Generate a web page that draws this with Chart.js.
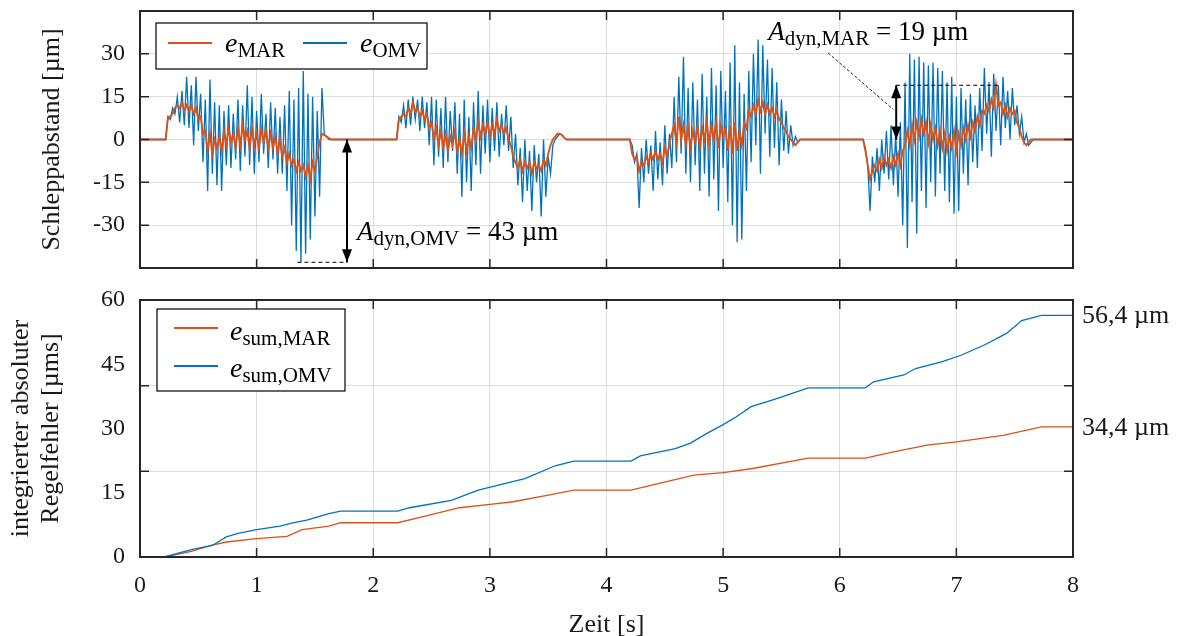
<!DOCTYPE html>
<html>
<head>
<meta charset="utf-8">
<script src="https://cdn.jsdelivr.net/npm/chart.js@4.4.1/dist/chart.umd.min.js"></script>
<style>
  html, body { margin: 0; padding: 0; background: #fff; }
  #wrap { position: relative; width: 1178px; height: 636px; }
  canvas { position: absolute; left: 0; }
  #oben { top: 0; }
  #unten { top: 280px; }
</style>
</head>
<body>
<div id="wrap">
  <canvas id="oben" width="1178" height="280"></canvas>
  <canvas id="unten" width="1178" height="356"></canvas>
</div>
<script>
const abschnittStart = [0.22, 2.2, 4.2, 6.2]
const dt = 0.02

const omv1 = [0, 8, 7, 11, 9, 15, 6, 17, 5, 22, 4, 19, -2, 22, 3, 16, -8, 14, -18, 21,
  -12, 13, -16, 12, -18, 10, -9, 12, -10, 9, -7, 14, -11, 12, -6, 19, -9, 15, -12, 10,
  -8, 16, -5, 9, -10, 13, -7, 11, -12, 8, -12, 12, -18, 17, -30, 14, -39, 18, -43, 24,
  -40, 16, -35, 15, -27, 10, -20, 18, 2, 1, 0, 0]
const mar1 = [0, 8, 8, 9, 11, 12, 11, 13, 10, 12, 10, 12, 9, 11, 7, 8, 2, 3, -4, 2,
  -5, 0, -3, 1, -4, 3, -2, 4, -1, 2, -3, 4, -2, 5, 0, 3, -3, 4, -2, 2,
  -3, 4, -1, 3, -3, 2, -3, 1, -5, 0, -6, -3, -8, -5, -9, -7, -11, -8, -11, -9,
  -13, -9, -14, -8, -11, -6, -1, 2, 1.5, 1, 0.5, 0]

const omv2 = [0, 8, 6, 12, 4, 14, 5, 15, 7, 14, 3, 15, 4, 13, -2, 15, -9, 14, -6, 11,
  -10, 15, -8, 10, -4, 13, -12, 9, -20, 14, -15, 8, -18, 13, -9, 17, -12, 12, -5, 14,
  -8, 11, -4, 13, -6, 9, -2, 12, -4, 8, -10, 2, -16, -3, -22, 0, -18, -4, -25, -2,
  -15, -5, -27, 0, -20, -6, -12, -2, 0, 1, 2, 1.5, 0.5, 0, 0, 0]
const mar2 = [0, 7, 8, 9, 8, 11, 9, 13, 10, 11, 8, 10, 7, 9, 4, 6, 0, 4, -2, 3,
  -3, 2, -4, 1, -2, 3, -4, 0, -5, 2, -4, 1, -3, 4, 0, 6, 1, 5, 2, 6,
  1, 5, 2, 7, 3, 5, 2, 4, 0, -2, -6, -8, -10, -7, -11, -8, -10, -8, -12, -8,
  -10, -9, -11, -7, -9, -5, -2, 0, 1, 2, 2, 1.5, 0.5, 0, 0, 0]

const omv3 = [0, -2, -8, -5, -24, -3, -15, 0, -12, -2, -18, 3, -14, -1, -16, 5, -12, 2, -10, 15,
  -8, 22, -5, 29, -12, 18, -15, 20, -9, 14, -18, 23, -12, 15, -20, 25, -14, 19, -25, 24,
  -10, 17, -22, 27, -30, 33, -36, 20, -35, 16, -18, 24, -8, 30, -2, 35, -12, 33, 2, 28,
  -6, 25, -3, 20, -9, 14, -4, 10, -5, 5, -2, 1, -1, 0, 0, 0]
const mar3 = [0, -5, -7, -6, -11, -8, -9, -6, -8, -5, -7, -4, -7, -5, -8, -3, -6, -1, 2, 5,
  -1, 8, 0, 5, -2, 4, -3, 3, -1, 5, -3, 4, 0, 6, -2, 5, 0, 6, -3, 5,
  1, 4, -4, 5, -5, 6, -4, 3, -2, 6, 4, 10, 8, 12, 9, 14, 10, 13, 9, 12,
  9, 11, 8, 10, 7, 6, 4, 3, 1, 0, -1, -2, -1, 0, 0, 0]

const omv4 = [0, -3, -9, -25, -6, -15, -3, -18, 0, -12, 3, -14, 5, -16, 2, -20, 6, -30, 20, -38,
  30, -22, 28, -33, 29, -18, 27, -24, 26, -15, 27, -20, 25, -12, 24, -18, 20, -22, 22, -26,
  15, -25, 18, -12, 14, -16, 16, -8, 12, -10, 18, -4, 25, 2, 20, -6, 23, 3, 19, -2,
  22, 4, 17, 0, 18, 5, 12, 2, 8, -1, 2, -2, -1, 0, 0, 0]
const mar4 = [0, -4, -9, -14, -11, -9, -11, -7, -10, -6, -9, -7, -10, -6, -9, -5, -9, -4, -2, 3,
  -2, 5, 0, 6, 1, 7, 2, 6, -1, 5, 0, 4, -2, 3, -3, 2, -4, 1, -3, 3,
  -4, 2, -2, 4, 0, 5, 1, 6, 3, 8, 5, 10, 9, 12, 10, 14, 11, 19, 12, 13,
  9, 12, 8, 11, 9, 10, 6, 4, 1, -1, -2, -1, 0, 0, 0, 0]

// integrierter absoluter Regelfehler
const tSumMar = [0, 0.21, 0.44, 0.61, 0.74, 1.0, 1.26, 1.39, 1.62, 1.72, 2.21, 2.41, 2.74, 3.0, 3.2,
  3.49, 3.72, 4.21, 4.56, 4.75, 5.0, 5.24, 5.73, 6.22, 6.45, 6.75, 7.0, 7.4, 7.73, 8.0]
const eSumMar = [0, 0, 1.3, 2.7, 3.5, 4.3, 4.8, 6.4, 7.2, 8.0, 8.0, 9.3, 11.5, 12.3, 12.9,
  14.4, 15.6, 15.6, 17.9, 19.1, 19.7, 20.6, 23.1, 23.1, 24.5, 26.1, 26.9, 28.4, 30.4, 30.4]
const tSumOmv = [0, 0.21, 0.44, 0.62, 0.74, 0.84, 1.0, 1.2, 1.3, 1.43, 1.62, 1.72, 2.21, 2.31, 2.67,
  2.9, 3.03, 3.3, 3.56, 3.72, 4.21, 4.29, 4.59, 4.72, 4.85, 5.0, 5.11, 5.24, 5.44, 5.73,
  6.22, 6.29, 6.55, 6.65, 6.88, 7.04, 7.24, 7.43, 7.56, 7.73, 8.0]
const eSumOmv = [0, 0, 1.7, 2.7, 4.7, 5.5, 6.4, 7.2, 7.9, 8.6, 10.1, 10.7, 10.7, 11.5, 13.2,
  15.6, 16.5, 18.3, 21.3, 22.4, 22.4, 23.6, 25.3, 26.6, 28.7, 30.9, 32.7, 35.1, 36.8, 39.5,
  39.5, 40.9, 42.5, 44.0, 45.6, 47.1, 49.5, 52.2, 55.2, 56.4, 56.4]

// Achsen
const xTicks = [0, 1, 2, 3, 4, 5, 6, 7, 8]
const yTicksOben = [-45, -30, -15, 0, 15, 30, 45]
const yLabelsOben = [-30, -15, 0, 15, 30]
const yGitterUnten = [0, 20, 40, 60]
const yLabelsUnten = [0, 15, 30, 45, 60]
const endLabels = ['56,4 µm', '34,4 µm']

const BLAU = '#0072BD'
const ORANGE = '#D95319'
const GITTER = 'rgba(0,0,0,0.13)'
const SERIF = '"Liberation Serif", "Times New Roman", serif'

Chart.defaults.font.family = SERIF
Chart.defaults.color = '#1a1a1a'

function zuPunkten(abschnitte) {
    const pts = [{x: 0, y: 0}]
    abschnitte.forEach((werte, k) => {
        werte.forEach((v, i) => pts.push({x: +(abschnittStart[k] + i * dt).toFixed(3), y: v}))
    })
    pts.push({x: 8, y: 0})
    return pts
}

function zuXY(t, w) {
    return t.map((x, i) => ({x: x, y: w[i]}))
}

// keine Randabstände für halbe Beschriftungen
function festeBreite(breite) {
    return s => {
        s.width = breite
        s.paddingTop = 0
        s.paddingBottom = 0
    }
}
function festeHoehe(hoehe) {
    return s => {
        s.height = hoehe
        s.paddingLeft = 0
        s.paddingRight = 0
    }
}

// Text mit Index (italic Grundzeichen, aufrechter Index)
function formelText(ctx, x, y, teile, gross, klein) {
    let cx = x
    ctx.textBaseline = 'alphabetic'
    ctx.textAlign = 'left'
    for (const [txt, art] of teile) {
        if (art === 'i') ctx.font = `italic ${gross}px ${SERIF}`
        else if (art === 's') ctx.font = `${klein}px ${SERIF}`
        else ctx.font = `${gross}px ${SERIF}`
        ctx.fillText(txt, cx, art === 's' ? y + 5 : y)
        cx += ctx.measureText(txt).width
    }
}

function doppelpfeil(ctx, x, y1, y2) {
    ctx.beginPath()
    ctx.moveTo(x, y1)
    ctx.lineTo(x, y2)
    ctx.stroke()
    for (const [yt, richtung] of [[y1, Math.sign(y1 - y2)], [y2, Math.sign(y2 - y1)]]) {
        ctx.beginPath()
        ctx.moveTo(x, yt)
        ctx.lineTo(x - 5, yt - richtung * 13)
        ctx.lineTo(x + 5, yt - richtung * 13)
        ctx.closePath()
        ctx.fill()
    }
}

// Rahmen mit nach innen zeigenden Ticks (MATLAB-Stil)
const rahmenPlugin = {
    id: 'rahmen',
    afterDatasetsDraw(chart, args, opts) {
        const {ctx, chartArea: a, scales} = chart
        ctx.save()
        ctx.strokeStyle = '#262626'
        ctx.lineWidth = 1.5
        ctx.beginPath()
        for (const v of opts.xTicks) {
            const px = scales.x.getPixelForValue(v)
            ctx.moveTo(px, a.top); ctx.lineTo(px, a.top + 9)
            ctx.moveTo(px, a.bottom); ctx.lineTo(px, a.bottom - 9)
        }
        for (const v of opts.yTicks) {
            const py = scales.y.getPixelForValue(v)
            ctx.moveTo(a.left, py); ctx.lineTo(a.left + 9, py)
            ctx.moveTo(a.right, py); ctx.lineTo(a.right - 9, py)
        }
        ctx.stroke()
        ctx.lineWidth = 2
        ctx.strokeRect(a.left, a.top, a.right - a.left, a.bottom - a.top)
        ctx.restore()
    }
}

const legendePlugin = {
    id: 'legende',
    afterDraw(chart, args, opts) {
        const {ctx, chartArea: a} = chart
        const bx = a.left + opts.dx, by = a.top + opts.dy
        ctx.save()
        ctx.fillStyle = '#fff'
        ctx.fillRect(bx, by, opts.w, opts.h)
        ctx.strokeStyle = '#000'
        ctx.lineWidth = 1.2
        ctx.strokeRect(bx, by, opts.w, opts.h)
        for (const it of opts.items) {
            ctx.strokeStyle = it.farbe
            ctx.lineWidth = 1.8
            ctx.beginPath()
            ctx.moveTo(bx + it.lx, by + it.ly)
            ctx.lineTo(bx + it.lx + 44, by + it.ly)
            ctx.stroke()
            ctx.fillStyle = '#000'
            formelText(ctx, bx + it.tx, by + it.ty, it.teile, 28, 21)
        }
        ctx.restore()
    }
}

const markierungPlugin = {
    id: 'markierung',
    afterDraw(chart) {
        const {ctx, scales: {x, y}} = chart
        ctx.save()
        ctx.fillStyle = '#000'
        ctx.strokeStyle = '#000'
        ctx.lineWidth = 1
        ctx.setLineDash([4, 3])
        ctx.beginPath()
        ctx.moveTo(x.getPixelForValue(1.35), y.getPixelForValue(-43))
        ctx.lineTo(x.getPixelForValue(1.775), y.getPixelForValue(-43))
        ctx.moveTo(x.getPixelForValue(6.484), y.getPixelForValue(19))
        ctx.lineTo(x.getPixelForValue(7.36), y.getPixelForValue(19))
        ctx.stroke()
        ctx.setLineDash([3, 2])
        ctx.lineWidth = 0.9
        ctx.beginPath()
        ctx.moveTo(x.getPixelForValue(5.9), y.getPixelForValue(30.3))
        ctx.lineTo(x.getPixelForValue(6.46), y.getPixelForValue(10.5))
        ctx.stroke()
        ctx.setLineDash([])
        ctx.lineWidth = 2
        doppelpfeil(ctx, x.getPixelForValue(1.775), y.getPixelForValue(0), y.getPixelForValue(-43))
        doppelpfeil(ctx, x.getPixelForValue(6.484), y.getPixelForValue(0), y.getPixelForValue(19))
        formelText(ctx, x.getPixelForValue(1.861), y.getPixelForValue(-35.2),
            [['A', 'i'], ['dyn,OMV', 's'], [' = 43 µm', 'r']], 27, 21)
        formelText(ctx, x.getPixelForValue(5.386), y.getPixelForValue(34.8),
            [['A', 'i'], ['dyn,MAR', 's'], [' = 19 µm', 'r']], 27, 21)
        ctx.restore()
    }
}

const endwertPlugin = {
    id: 'endwerte',
    afterDraw(chart, args, opts) {
        const {ctx, chartArea: a, scales: {y}} = chart
        ctx.save()
        ctx.fillStyle = '#1a1a1a'
        ctx.font = `26px ${SERIF}`
        ctx.textAlign = 'left'
        ctx.textBaseline = 'middle'
        opts.items.forEach(it => {
            const werte = chart.data.datasets[it.ds].data
            ctx.fillText(it.text, a.right + 9, y.getPixelForValue(werte[werte.length - 1].y) + 1)
        })
        ctx.restore()
    }
}

const obenChart = new Chart(document.getElementById('oben'), {
    type: 'line',
    data: {
        datasets: [
            {label: 'e_MAR', data: zuPunkten([mar1, mar2, mar3, mar4]), borderColor: ORANGE, borderWidth: 1.9},
            {label: 'e_OMV', data: zuPunkten([omv1, omv2, omv3, omv4]), borderColor: BLAU, borderWidth: 1.3}
        ]
    },
    options: {
        responsive: false,
        animation: false,
        events: [],
        elements: {point: {radius: 0}, line: {tension: 0}},
        layout: {padding: {top: 11, right: 105, left: 0, bottom: 0}},
        plugins: {
            legend: {display: false},
            tooltip: {enabled: false},
            rahmen: {xTicks: xTicks.slice(1, -1), yTicks: yLabelsOben},
            legende: {
                dx: 16, dy: 12, w: 271, h: 46,
                items: [
                    {farbe: ORANGE, lx: 12, ly: 20, tx: 69, ty: 29, teile: [['e', 'i'], ['MAR', 's']]},
                    {farbe: BLAU, lx: 147, ly: 20, tx: 204, ty: 29, teile: [['e', 'i'], ['OMV', 's']]}
                ]
            }
        },
        scales: {
            x: {
                type: 'linear', min: 0, max: 8,
                ticks: {display: false, stepSize: 1},
                grid: {color: GITTER, drawTicks: false},
                border: {display: false},
                afterFit: festeHoehe(12)
            },
            y: {
                min: -45, max: 45,
                afterBuildTicks: s => { s.ticks = yTicksOben.map(v => ({value: v})) },
                ticks: {
                    padding: 15,
                    font: {size: 24},
                    callback: v => yLabelsOben.includes(v) ? String(v) : ''
                },
                grid: {
                    color: c => yLabelsOben.includes(c.tick && c.tick.value) ? GITTER : 'rgba(0,0,0,0)',
                    drawTicks: false
                },
                border: {display: false},
                title: {display: true, text: 'Schleppabstand [µm]', font: {size: 26}, padding: {top: 37, bottom: 0}},
                afterFit: festeBreite(140)
            }
        }
    },
    plugins: [rahmenPlugin, markierungPlugin, legendePlugin]
})

const untenChart = new Chart(document.getElementById('unten'), {
    type: 'line',
    data: {
        datasets: [
            {label: 'e_sum,OMV', data: zuXY(tSumOmv, eSumOmv), borderColor: BLAU, borderWidth: 1.3},
            {label: 'e_sum,MAR', data: zuXY(tSumMar, eSumMar), borderColor: ORANGE, borderWidth: 1.3}
        ]
    },
    options: {
        responsive: false,
        animation: false,
        events: [],
        elements: {point: {radius: 0}, line: {tension: 0}},
        layout: {padding: {top: 20, right: 105, left: 0, bottom: 0}},
        plugins: {
            legend: {display: false},
            tooltip: {enabled: false},
            rahmen: {xTicks: xTicks.slice(1, -1), yTicks: [20, 40]},
            legende: {
                dx: 17, dy: 9, w: 188, h: 82,
                items: [
                    {farbe: ORANGE, lx: 17, ly: 19, tx: 73, ty: 31, teile: [['e', 'i'], ['sum,MAR', 's']]},
                    {farbe: BLAU, lx: 17, ly: 57, tx: 73, ty: 68, teile: [['e', 'i'], ['sum,OMV', 's']]}
                ]
            },
            endwerte: {items: [{ds: 0, text: endLabels[0]}, {ds: 1, text: endLabels[1]}]}
        },
        scales: {
            x: {
                type: 'linear', min: 0, max: 8,
                ticks: {stepSize: 1, padding: 14, font: {size: 24}},
                grid: {color: GITTER, drawTicks: false},
                border: {display: false},
                title: {display: true, text: 'Zeit [s]', font: {size: 26, lineHeight: 0.85}, padding: {top: 0, bottom: 0}},
                afterFit: festeHoehe(79)
            },
            y: {
                min: 0, max: 60,
                afterBuildTicks: s => {
                    s.ticks = [...new Set([...yGitterUnten, ...yLabelsUnten])].sort((a, b) => a - b).map(v => ({value: v}))
                },
                ticks: {
                    padding: 15,
                    font: {size: 24},
                    callback: v => yLabelsUnten.includes(v) ? String(v) : ''
                },
                grid: {
                    color: c => yGitterUnten.includes(c.tick && c.tick.value) ? GITTER : 'rgba(0,0,0,0)',
                    drawTicks: false
                },
                border: {display: false},
                title: {
                    display: true,
                    text: ['integrierter absoluter', 'Regelfehler [µms]'],
                    font: {size: 26, lineHeight: 1.15},
                    padding: {top: 6, bottom: 0}
                },
                afterFit: festeBreite(140)
            }
        }
    },
    plugins: [rahmenPlugin, legendePlugin, endwertPlugin]
})
</script>
</body>
</html>
